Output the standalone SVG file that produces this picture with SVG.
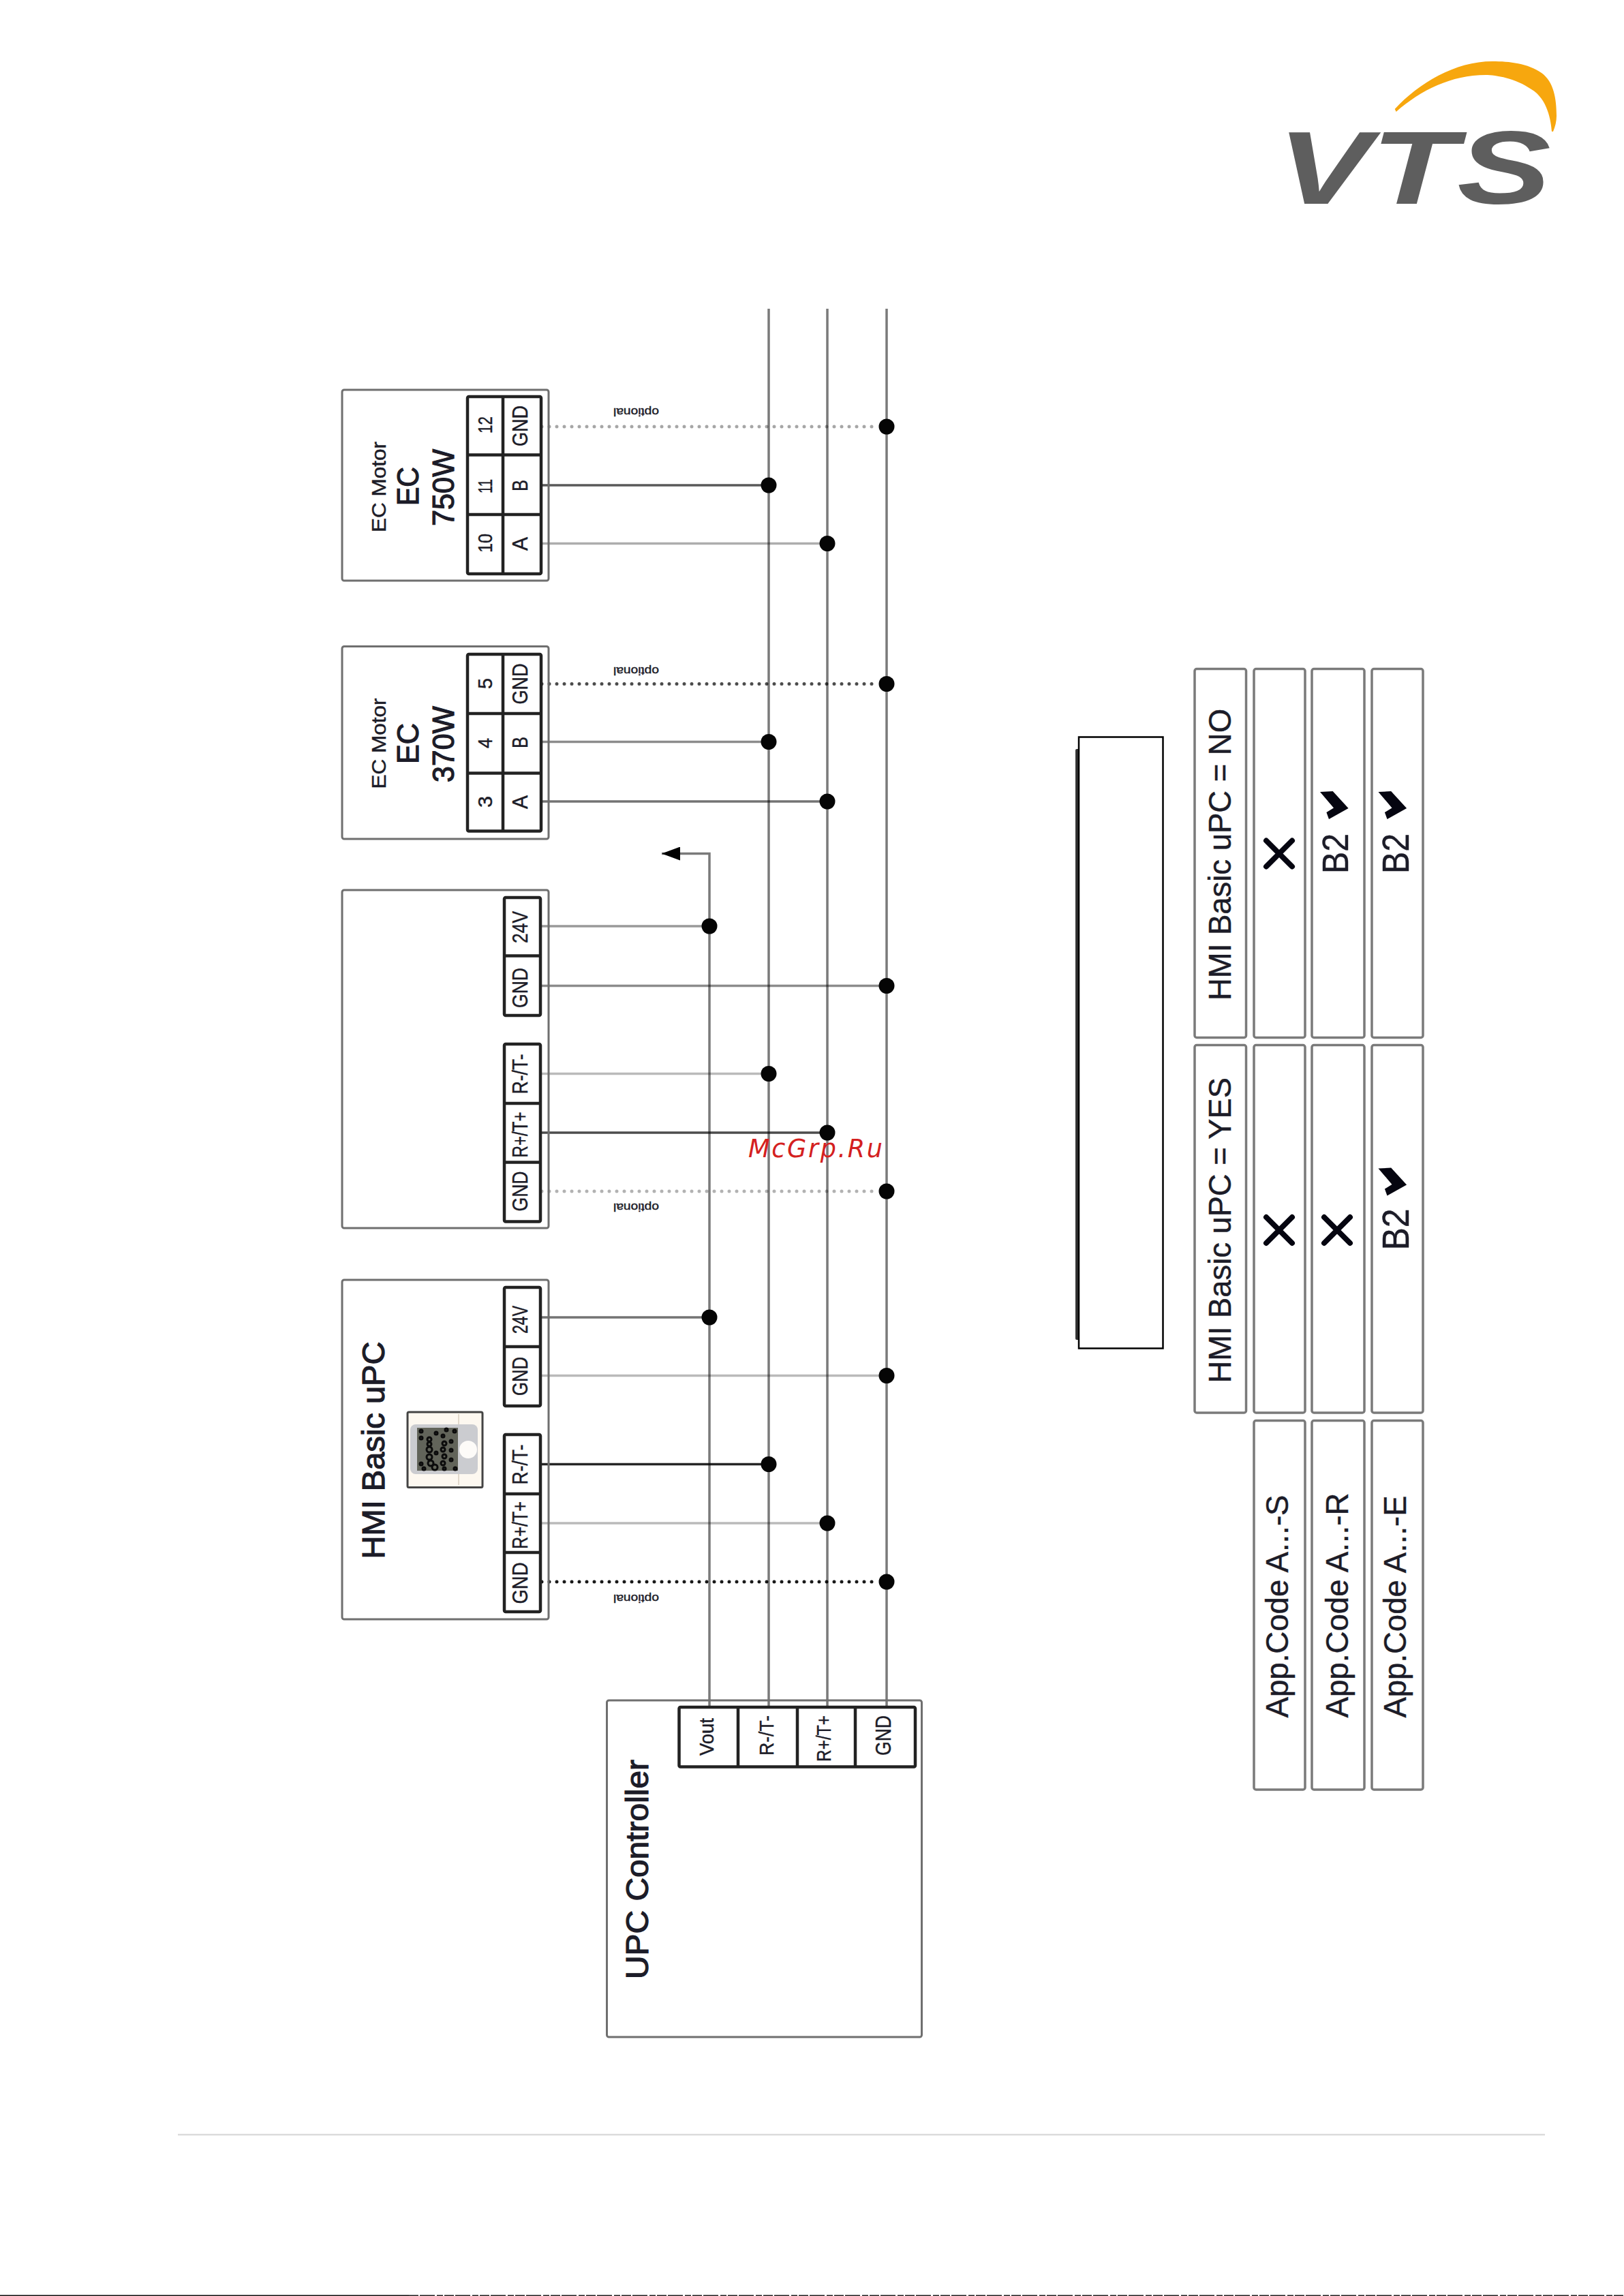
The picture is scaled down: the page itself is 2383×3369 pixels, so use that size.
<svg xmlns="http://www.w3.org/2000/svg" xmlns:xlink="http://www.w3.org/1999/xlink" width="2383" height="3369" viewBox="0 0 2383 3369">
<style>
text{font-family:"Liberation Sans",Arial,sans-serif;fill:#1c1c28;stroke:#1c1c28;stroke-width:.45}
text.b{stroke-width:1.200}
text.f{stroke:none}
.box{fill:#fff;stroke:#6f6f6f;stroke-width:3;rx:3px}
.cell{fill:#fff;stroke:#7a7a7a;stroke-width:3.500;rx:3px}
.term{fill:#fff;stroke:#222;stroke-width:4.500;rx:2px}
.div{stroke:#222;stroke-width:4.500;fill:none}
.bus{stroke:#000;stroke-opacity:.52;stroke-width:3.500;fill:none}
.w{stroke:#000;stroke-width:3.500;fill:none}
.dot{stroke:#000;stroke-width:5;stroke-linecap:round;stroke-dasharray:0 11;fill:none}
.j{fill:#050505}
.x{stroke:#050510;stroke-width:8;stroke-linecap:round;fill:none}
</style>
<defs>
<marker id="ah" markerUnits="userSpaceOnUse" markerWidth="28" markerHeight="20" refX="27" refY="10" orient="auto"><path d="M0 0L27 10L0 20Z" fill="#000"/></marker>
<polygon id="chev" points="0,1 18.700,0 41.600,25 13,41 9.400,31 20,24.400" fill="#050510"/>
<g id="cross"><path class="x" d="M-19-19L19 19M19-19L-19 19"/></g>
</defs>
<rect width="2383" height="3369" fill="#fff"/>

<g id="logo">
<path fill="#f7a70e" d="M2046.700 160C2082 122 2135 90 2190 90C2215 90 2242 93 2262 107C2280 120 2284 145 2284 170C2284 178 2282 186 2279 193L2277 193C2276 178 2271 145 2247 131C2224 115 2195 110 2180 110C2130 110 2085 132 2048.700 164Z"/>
<text class="f" transform="translate(1874,299)" font-size="152" font-weight="700" font-style="italic" style="fill:#5e5e5e" textLength="402" lengthAdjust="spacingAndGlyphs">VTS</text>
</g>

<g id="connectors">
<path class="bus" d="M1128 453V2505M1214 453V2505M1301 453V2505"/>
<path class="bus" d="M1041 2505V1252.500H971" marker-end="url(#ah)"/>
<path class="dot" stroke-opacity=".35" d="M795 626H1290"/>
<path class="w" stroke-opacity=".65" d="M795 712H1128"/>
<path class="w" stroke-opacity=".32" d="M795 797.500H1214"/>
<path class="dot" stroke-opacity=".7" d="M795 1003.500H1290"/>
<path class="w" stroke-opacity=".45" d="M795 1088.500H1128"/>
<path class="w" stroke-opacity=".55" d="M795 1176H1214"/>
<path class="w" stroke-opacity=".4" stroke-width="4" d="M795 1359H1041"/>
<path class="w" stroke-opacity=".45" d="M795 1446.500H1301"/>
<path class="w" stroke-opacity=".27" d="M795 1575.500H1128"/>
<path class="w" stroke-opacity=".7" d="M795 1662H1214"/>
<path class="dot" stroke-opacity=".3" d="M795 1748H1290"/>
<path class="w" stroke-opacity=".55" d="M795 1933H1041"/>
<path class="w" stroke-opacity=".27" d="M795 2018.500H1301"/>
<path class="w" stroke-opacity=".85" d="M795 2148.500H1128"/>
<path class="w" stroke-opacity=".27" d="M795 2235H1214"/>
<path class="dot" stroke-opacity=".9" d="M795 2321H1290"/>
<g>
<circle class="j" cx="1301" cy="626" r="11.500"/><circle class="j" cx="1128" cy="712" r="11.500"/><circle class="j" cx="1214" cy="797.500" r="11.500"/>
<circle class="j" cx="1301" cy="1003.500" r="11.500"/><circle class="j" cx="1128" cy="1088.500" r="11.500"/><circle class="j" cx="1214" cy="1176" r="11.500"/>
<circle class="j" cx="1041" cy="1359" r="11.500"/><circle class="j" cx="1301" cy="1446.500" r="11.500"/><circle class="j" cx="1128" cy="1575.500" r="11.500"/><circle class="j" cx="1214" cy="1662" r="11.500"/><circle class="j" cx="1301" cy="1748" r="11.500"/>
<circle class="j" cx="1041" cy="1933" r="11.500"/><circle class="j" cx="1301" cy="2018.500" r="11.500"/><circle class="j" cx="1128" cy="2148.500" r="11.500"/><circle class="j" cx="1214" cy="2235" r="11.500"/><circle class="j" cx="1301" cy="2321" r="11.500"/>
</g>
<text transform="translate(967,599) rotate(180)" font-size="17" textLength="67" lengthAdjust="spacingAndGlyphs">optional</text>
<text transform="translate(967,979) rotate(180)" font-size="17" textLength="67" lengthAdjust="spacingAndGlyphs">optional</text>
<text transform="translate(967,1766) rotate(180)" font-size="17" textLength="67" lengthAdjust="spacingAndGlyphs">optional</text>
<text transform="translate(967,2340) rotate(180)" font-size="17" textLength="67" lengthAdjust="spacingAndGlyphs">optional</text>
</g>

<g id="ec750">
<rect class="box" x="502" y="572" width="303" height="280" fill-opacity="0"/>
<rect class="term" x="686" y="582" width="108" height="260"/>
<path class="div" d="M738 582V842M686 667.500H794M686 755H794"/>
<text transform="translate(566,781) rotate(-90)" font-size="29" textLength="133" lengthAdjust="spacingAndGlyphs">EC Motor</text>
<text class="b" transform="translate(614,742) rotate(-90)" font-size="44" textLength="57" lengthAdjust="spacingAndGlyphs">EC</text>
<text class="b" transform="translate(666,772) rotate(-90)" font-size="45" textLength="113" lengthAdjust="spacingAndGlyphs">750W</text>
<text transform="translate(722,636) rotate(-90)" font-size="29" textLength="25" lengthAdjust="spacingAndGlyphs">12</text>
<text transform="translate(722,724) rotate(-90)" font-size="29" textLength="21" lengthAdjust="spacingAndGlyphs">11</text>
<text transform="translate(722,811) rotate(-90)" font-size="29" textLength="28" lengthAdjust="spacingAndGlyphs">10</text>
<text transform="translate(774,655) rotate(-90)" font-size="32" textLength="60" lengthAdjust="spacingAndGlyphs">GND</text>
<text transform="translate(774,721) rotate(-90)" font-size="32" textLength="17" lengthAdjust="spacingAndGlyphs">B</text>
<text transform="translate(774,808) rotate(-90)" font-size="32" textLength="20" lengthAdjust="spacingAndGlyphs">A</text>
</g>

<g id="ec370">
<rect class="box" x="502" y="948.500" width="303" height="282.500" fill-opacity="0"/>
<rect class="term" x="686" y="960" width="108" height="259.500"/>
<path class="div" d="M738 960V1219.500M686 1047H794M686 1134.500H794"/>
<text transform="translate(566,1157.500) rotate(-90)" font-size="29" textLength="133" lengthAdjust="spacingAndGlyphs">EC Motor</text>
<text class="b" transform="translate(614,1121) rotate(-90)" font-size="44" textLength="60" lengthAdjust="spacingAndGlyphs">EC</text>
<text class="b" transform="translate(666,1148) rotate(-90)" font-size="45" textLength="112" lengthAdjust="spacingAndGlyphs">370W</text>
<text transform="translate(722,1011) rotate(-90)" font-size="29" textLength="16" lengthAdjust="spacingAndGlyphs">5</text>
<text transform="translate(722,1098) rotate(-90)" font-size="29" textLength="15" lengthAdjust="spacingAndGlyphs">4</text>
<text transform="translate(722,1185) rotate(-90)" font-size="29" textLength="17" lengthAdjust="spacingAndGlyphs">3</text>
<text transform="translate(774,1033.500) rotate(-90)" font-size="32" textLength="60" lengthAdjust="spacingAndGlyphs">GND</text>
<text transform="translate(774,1098) rotate(-90)" font-size="32" textLength="17" lengthAdjust="spacingAndGlyphs">B</text>
<text transform="translate(774,1187) rotate(-90)" font-size="32" textLength="20" lengthAdjust="spacingAndGlyphs">A</text>
</g>

<g id="device">
<rect class="box" x="502" y="1306" width="303" height="496" fill-opacity="0"/>
<rect class="term" x="740" y="1317" width="53" height="173"/>
<rect class="term" x="740" y="1532" width="53" height="260.500"/>
<path class="div" d="M738 1402.500H795M738 1619H795M738 1705.500H795"/>
<text transform="translate(774,1384) rotate(-90)" font-size="32" textLength="47" lengthAdjust="spacingAndGlyphs">24V</text>
<text transform="translate(774,1479) rotate(-90)" font-size="32" textLength="59" lengthAdjust="spacingAndGlyphs">GND</text>
<text transform="translate(774,1605.500) rotate(-90)" font-size="32" textLength="59" lengthAdjust="spacingAndGlyphs">R-/T-</text>
<text transform="translate(774,1698.500) rotate(-90)" font-size="32" textLength="67" lengthAdjust="spacingAndGlyphs">R+/T+</text>
<text transform="translate(774,1777.500) rotate(-90)" font-size="32" textLength="59" lengthAdjust="spacingAndGlyphs">GND</text>
</g>

<g id="hmi">
<rect class="box" x="502" y="1878" width="303" height="498" fill-opacity="0"/>
<rect class="term" x="740" y="1889" width="53" height="174"/>
<rect class="term" x="740" y="2105" width="53" height="260"/>
<path class="div" d="M738 1976H795M738 2192H795M738 2278H795"/>
<text class="b" transform="translate(563.500,2287.500) rotate(-90)" font-size="47" textLength="319" lengthAdjust="spacingAndGlyphs">HMI Basic uPC</text>
<text transform="translate(774,1957) rotate(-90)" font-size="32" textLength="41" lengthAdjust="spacingAndGlyphs">24V</text>
<text transform="translate(774,2048) rotate(-90)" font-size="32" textLength="57" lengthAdjust="spacingAndGlyphs">GND</text>
<text transform="translate(774,2178.500) rotate(-90)" font-size="32" textLength="59" lengthAdjust="spacingAndGlyphs">R-/T-</text>
<text transform="translate(774,2273) rotate(-90)" font-size="32" textLength="70" lengthAdjust="spacingAndGlyphs">R+/T+</text>
<text transform="translate(774,2353.500) rotate(-90)" font-size="32" textLength="61" lengthAdjust="spacingAndGlyphs">GND</text>
<g id="hmi-device">
<rect x="598" y="2072" width="110" height="110.500" rx="2" fill="#fdf8f0" stroke="#444" stroke-width="3"/>
<path d="M673 2075V2179" stroke="#d8cfc0" stroke-width="1.500"/>
<rect x="602" y="2090" width="99" height="73" rx="8" fill="#cbccd0"/>
<rect x="612" y="2095" width="60" height="63" fill="#62645a"/>
<circle cx="687" cy="2127" r="13" fill="#fdfbf8"/>
<g fill="none" stroke="#0b0b0b" stroke-width="3">
<circle cx="630" cy="2112" r="3"/><circle cx="630" cy="2119" r="3"/><circle cx="630" cy="2127" r="4"/><circle cx="630" cy="2138" r="4"/><circle cx="632" cy="2147" r="4"/><circle cx="638" cy="2153" r="4"/>
<circle cx="650" cy="2107" r="2"/><circle cx="652" cy="2118" r="3"/><circle cx="650" cy="2127" r="3"/><circle cx="652" cy="2137" r="3"/><circle cx="650" cy="2147" r="3"/><circle cx="652" cy="2155" r="2"/>
<circle cx="618" cy="2100" r="2"/><circle cx="640" cy="2103" r="2"/><circle cx="655" cy="2098" r="2"/><circle cx="667" cy="2100" r="2"/><circle cx="618" cy="2110" r="2"/><circle cx="662" cy="2115" r="2"/><circle cx="662" cy="2128" r="2"/><circle cx="662" cy="2142" r="2"/><circle cx="640" cy="2132" r="2"/><circle cx="618" cy="2148" r="2"/><circle cx="622" cy="2155" r="2"/><circle cx="668" cy="2155" r="2"/>
</g>
</g>
</g>

<g id="upc">
<rect class="box" x="890.500" y="2495" width="462" height="494" fill-opacity="0"/>
<rect class="term" x="996.500" y="2505" width="346.500" height="87.500"/>
<path class="div" d="M1083 2505V2592.500M1170 2505V2592.500M1255 2505V2592.500"/>
<text class="b" transform="translate(951,2904) rotate(-90)" font-size="47" textLength="322" lengthAdjust="spacingAndGlyphs">UPC Controller</text>
<text transform="translate(1047,2576) rotate(-90)" font-size="30" textLength="55" lengthAdjust="spacingAndGlyphs">Vout</text>
<text transform="translate(1135,2576) rotate(-90)" font-size="30" textLength="59" lengthAdjust="spacingAndGlyphs">R-/T-</text>
<text transform="translate(1219,2585) rotate(-90)" font-size="30" textLength="68" lengthAdjust="spacingAndGlyphs">R+/T+</text>
<text transform="translate(1307,2576) rotate(-90)" font-size="32" textLength="59" lengthAdjust="spacingAndGlyphs">GND</text>
</g>

<g id="blank-panel">
<rect x="1578" y="1099" width="14" height="867" rx="2" fill="#333"/>
<rect x="1583" y="1081.500" width="123.500" height="897" fill="#fff" stroke="#000" stroke-width="2.500"/>
</g>

<g id="table">
<g id="hdr-no"><rect class="cell" x="1753" y="981.500" width="75.500" height="541"/>
<text transform="translate(1806,1468) rotate(-90)" font-size="46" textLength="428" lengthAdjust="spacingAndGlyphs">HMI Basic uPC = NO</text></g>
<g id="hdr-yes"><rect class="cell" x="1753" y="1533.500" width="75.500" height="539.500"/>
<text transform="translate(1806,2029.500) rotate(-90)" font-size="46" textLength="448.500" lengthAdjust="spacingAndGlyphs">HMI Basic uPC = YES</text></g>
<g id="c1-no"><rect class="cell" x="1840" y="981.500" width="75" height="541"/><use xlink:href="#cross" href="#cross" x="1877" y="1252.500"/></g>
<g id="c2-no"><rect class="cell" x="1925" y="981.500" width="77" height="541"/>
<use xlink:href="#chev" href="#chev" x="1937" y="1161"/>
<text transform="translate(1978,1282) rotate(-90)" font-size="54" textLength="59" lengthAdjust="spacingAndGlyphs">B2</text></g>
<g id="c3-no"><rect class="cell" x="2013" y="981.500" width="75" height="541"/>
<use xlink:href="#chev" href="#chev" x="2022.500" y="1161"/>
<text transform="translate(2067,1282) rotate(-90)" font-size="56" textLength="59" lengthAdjust="spacingAndGlyphs">B2</text></g>
<g id="c1-yes"><rect class="cell" x="1840" y="1533.500" width="75" height="539.500"/><use xlink:href="#cross" href="#cross" x="1877" y="1805"/></g>
<g id="c2-yes"><rect class="cell" x="1925" y="1533.500" width="77" height="539.500"/><use xlink:href="#cross" href="#cross" x="1962" y="1805"/></g>
<g id="c3-yes"><rect class="cell" x="2013" y="1533.500" width="75" height="539.500"/>
<use xlink:href="#chev" href="#chev" x="2022.500" y="1713.500"/>
<text transform="translate(2067,1834.500) rotate(-90)" font-size="56" textLength="61" lengthAdjust="spacingAndGlyphs">B2</text></g>
<g id="c1-code"><rect class="cell" x="1840" y="2084.500" width="75" height="541.500"/>
<text transform="translate(1890,2520.500) rotate(-90)" font-size="46" textLength="327" lengthAdjust="spacingAndGlyphs">App.Code A...-S</text></g>
<g id="c2-code"><rect class="cell" x="1925" y="2084.500" width="77" height="541.500"/>
<text transform="translate(1978,2520.500) rotate(-90)" font-size="46" textLength="330" lengthAdjust="spacingAndGlyphs">App.Code A...-R</text></g>
<g id="c3-code"><rect class="cell" x="2013" y="2084.500" width="75" height="541.500"/>
<text transform="translate(2063,2520.500) rotate(-90)" font-size="46" textLength="326" lengthAdjust="spacingAndGlyphs">App.Code A...-E</text></g>
</g>

<g id="page">
<rect x="261" y="3131" width="2006" height="2.500" fill="#dcdcdc"/>
<rect x="0" y="3367.500" width="600" height="1.500" fill="#111"/>
<path d="M600 3368.300H2383" stroke="#222" stroke-width="1.500" stroke-dasharray="14 2 22 3 9 2"/>
<text class="f" x="1098" y="1698" font-size="36.500" font-style="oblique" style="font-family:'DejaVu Sans',sans-serif;fill:#d42020" textLength="197" lengthAdjust="spacing">McGrp.Ru</text>
</g>
</svg>
